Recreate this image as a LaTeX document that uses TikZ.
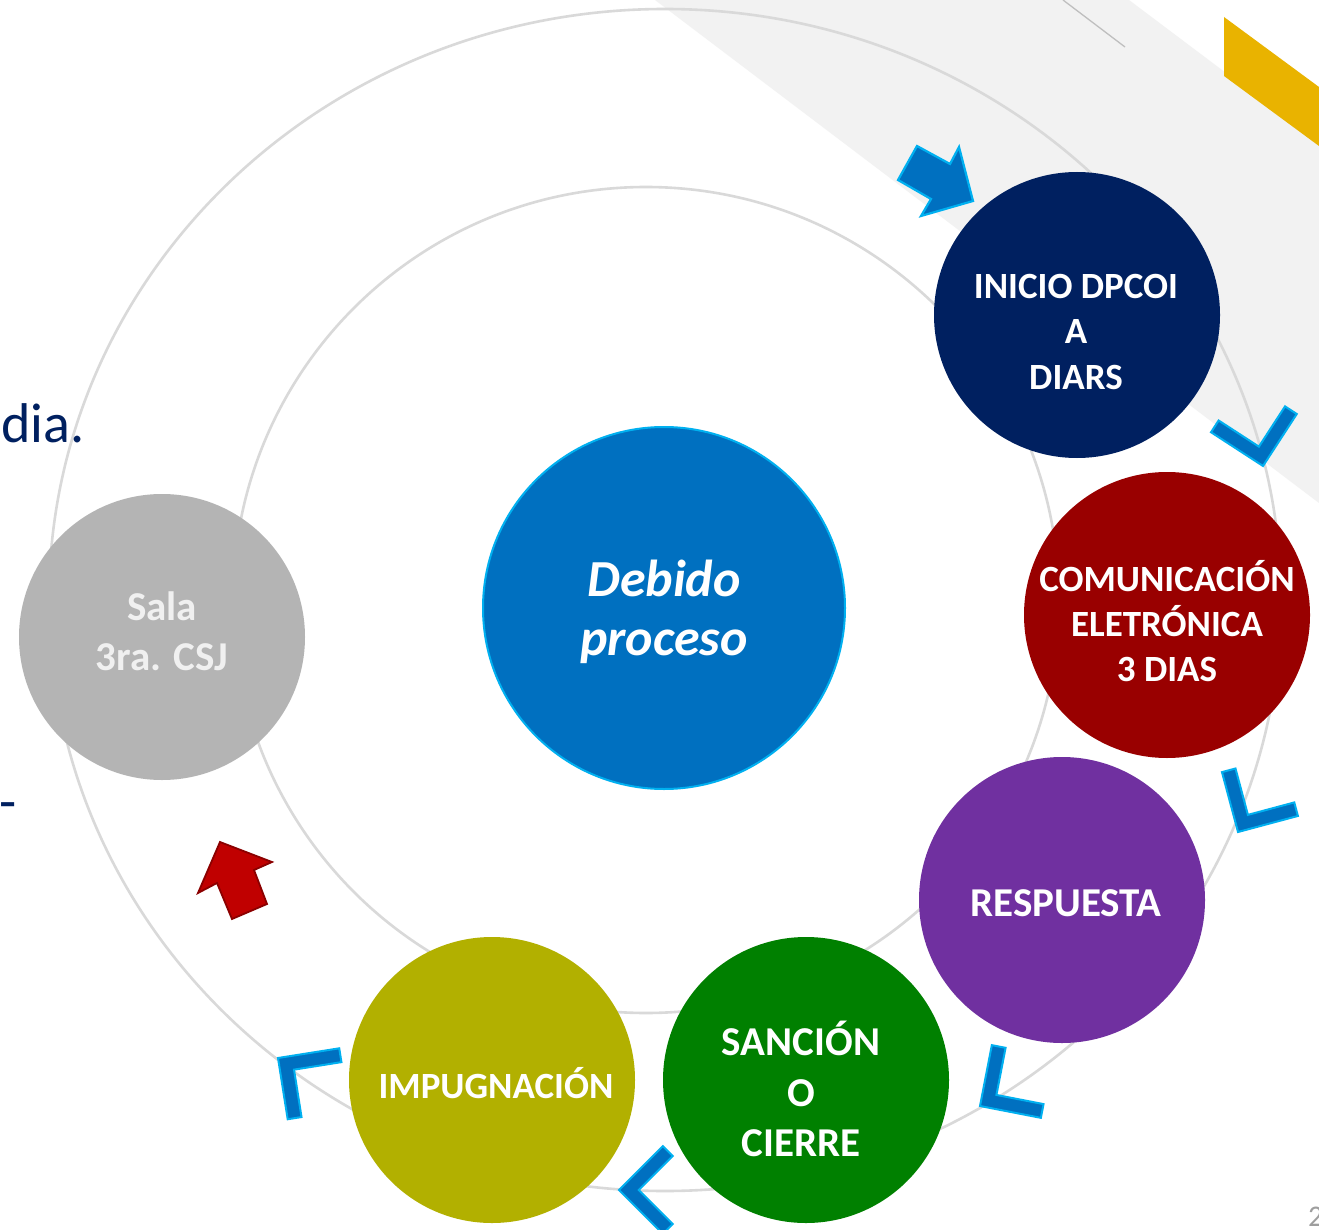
\documentclass[tikz,border=0pt]{standalone}
\usepackage{fontspec}
\setmainfont{Carlito}
\usetikzlibrary{calc}
\definecolor{navy}{HTML}{002060}
\definecolor{dred}{HTML}{990000}
\definecolor{purp}{HTML}{7030A0}
\definecolor{dgreen}{HTML}{008000}
\definecolor{olive}{RGB}{178,176,0}
\definecolor{lgray}{RGB}{180,180,180}
\definecolor{mblue}{HTML}{0070C0}
\definecolor{sky}{HTML}{00B0F0}
\definecolor{ring}{HTML}{D9D9D9}
\definecolor{band}{HTML}{F2F2F2}
\definecolor{gold}{RGB}{233,179,0}
\definecolor{arred}{HTML}{C00000}
\definecolor{arredb}{HTML}{8B0000}
\tikzset{
  circ/.style={circle, inner sep=0pt, minimum size=286pt, draw=none},
  lbl/.style={text=white, inner sep=0pt, anchor=base, font=\bfseries},
  chevst/.style={fill=mblue, draw=sky, line width=2pt, line join=miter},
  chev/.pic={\draw[chevst] (0,0) -- (62,0) -- (62,14) -- (14,14) -- (14,62) -- (0,62) -- cycle;}
}
\begin{document}
\begin{tikzpicture}[x=1pt,y=-1pt]
\useasboundingbox (0,0) rectangle (1319,1230);
\clip (0,0) rectangle (1319,1230);
\fill[white] (0,0) rectangle (1319,1230);
% background band and accents
\fill[band] (655,0) -- (1129,0) -- (1319,143) -- (1319,503) -- cycle;
\fill[gold] (1224,17) -- (1319,87) -- (1319,146) -- (1224,76) -- cycle;
\draw[color=black!25, line width=1.3pt] (1063,0) -- (1125,47);
% rings
\draw[ring, line width=2.6pt] (665,600) ellipse [x radius=616, y radius=591];
\draw[ring, line width=2.6pt] (646,600) circle [radius=413];
% circles
\node[circ, fill=mblue, draw=sky, line width=2pt, minimum size=362pt] (center) at (664,608) {};
\node[circ, fill=navy] (inicio) at (1077,315) {};
\node[circ, fill=dred] (comun) at (1167,615) {};
\node[circ, fill=purp] (resp) at (1062,900) {};
\node[circ, fill=dgreen] (sanc) at (806,1080) {};
\node[circ, fill=olive] (impug) at (492,1080) {};
\node[circ, fill=lgray] (sala) at (162,637) {};
% chevrons
\pic[rotate=147] at (1263,466) {chev};
\pic[rotate=105] at (1238,832) {chev};
\pic[rotate=79] at (980,1106) {chev};
\pic[rotate=45] at (619,1190) {chev};
\pic[rotate=9] at (278,1058) {chev};
% arrows
\draw[fill=mblue, draw=sky, line width=2.2pt, line join=miter]
  (917,146) -- (950,164) -- (959,147) -- (973,201) -- (921,216) -- (931,199) -- (898,180) -- cycle;
\draw[fill=arred, draw=arredb, line width=1.8pt, line join=miter]
  (220,842) -- (272,862) -- (254,870) -- (267,904) -- (232,919) -- (217,883) -- (198,893) -- cycle;
% texts
\node[lbl, font=\bfseries\fontsize{37}{45}\selectfont] (t1a) at (1076,299) {INICIO DPCOI};
\node[lbl, font=\bfseries\fontsize{37}{45}\selectfont] (t1b) at (1076,344) {A};
\node[lbl, font=\bfseries\fontsize{37}{45}\selectfont] (t1c) at (1076,389) {DIARS};
\node[lbl, font=\bfseries\fontsize{37}{45}\selectfont] (t2a) at (1167,591) {COMUNICACIÓN};
\node[lbl, font=\bfseries\fontsize{37}{45}\selectfont] (t2b) at (1167,636) {ELETRÓNICA};
\node[lbl, font=\bfseries\fontsize{37}{45}\selectfont] (t2c) at (1167,681) {3 DIAS};
\node[lbl, font=\bfseries\fontsize{41}{50}\selectfont] (t3) at (1066,916) {RESPUESTA};
\node[lbl, font=\bfseries\fontsize{41}{50}\selectfont] (t4a) at (801,1055) {SANCIÓN};
\node[lbl, font=\bfseries\fontsize{41}{50}\selectfont] (t4b) at (801,1106) {O};
\node[lbl, font=\bfseries\fontsize{41}{50}\selectfont] (t4c) at (801,1156) {CIERRE};
\node[lbl, font=\bfseries\fontsize{37}{45}\selectfont] (t5) at (496,1098) {IMPUGNACIÓN};
\node[lbl, text=white!94!black, font=\bfseries\fontsize{41}{50}\selectfont] (t6a) at (162,620) {Sala};
\node[lbl, text=white!94!black, font=\bfseries\fontsize{41}{50}\selectfont] (t6b) at (162,670) {3ra. CSJ};
\node[lbl, font=\bfseries\itshape\fontsize{52}{64}\selectfont] (t7a) at (664,596) {Debido};
\node[lbl, font=\bfseries\itshape\fontsize{52}{64}\selectfont] (t7b) at (664,655) {proceso};
% page fragments
\node[text=navy, inner sep=0pt, anchor=base east, font=\fontsize{56}{68}\selectfont] (dia) at (85,442) {dia.};
\node[text=navy, inner sep=0pt, anchor=base west, font=\fontsize{56}{68}\selectfont] (dash) at (-1,820) {-};
\node[text=black!38, inner sep=0pt, anchor=north west, font=\fontsize{30}{36}\selectfont] (pg) at (1308,1207) {2};
\end{tikzpicture}
\end{document}
